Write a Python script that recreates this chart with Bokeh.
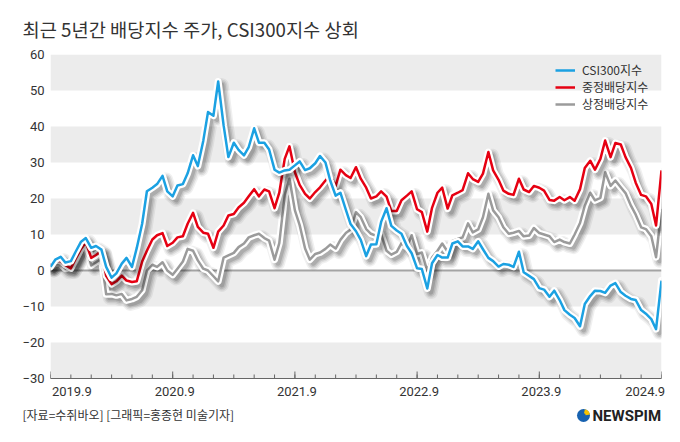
import numpy as np
import pandas as pd
from bokeh.plotting import figure
from bokeh.layouts import column
from bokeh.models import Range1d, LinearAxis, FixedTicker, Legend, LegendItem
from bokeh.core.properties import value
from bokeh.embed import file_html
from bokeh.resources import INLINE

# ---------------- data (semi-monthly) ----------------
dates = pd.date_range("2019-09-01", "2024-09-01", freq="SMS")

csi300 = [1.0, 3.0, 3.8, 2.2, 2.6, 5.2, 8.0, 9.0, 6.3, 6.8,
          5.8, 1.0, -2.0, -0.8, 1.9, 3.5, 1.0, 6.2, 13.0, 22.0,
          23.0, 24.0, 26.3, 22.0, 20.6, 23.6, 24.0, 27.0, 32.0, 29.0,
          36.0, 44.0, 43.0, 52.5, 40.3, 31.5, 35.5, 33.5, 32.0, 34.3,
          39.5, 35.5, 35.5, 33.6, 28.0, 27.2, 27.8, 28.0, 29.2, 30.3,
          27.9, 28.4, 29.8, 31.8, 30.0, 25.0, 20.8, 21.6, 16.9, 12.9,
          10.9, 8.5, 4.0, 7.2, 7.3, 13.5, 17.3, 12.4, 11.1, 10.2,
          6.8, 4.8, 0.6, 0.4, -5.0, 2.0, 4.3, 3.6, 3.6, 7.5,
          8.1, 6.7, 6.7, 6.0, 8.1, 5.9, 3.5, 2.6, 1.1, 1.8,
          1.6, 1.0, 5.2, -0.5, -1.5, -2.4, -4.9, -5.3, -7.3, -5.6,
          -8.2, -11.0, -12.3, -13.2, -15.5, -9.3, -7.1, -5.6, -5.7, -6.2,
          -4.2, -3.5, -6.0, -7.0, -7.9, -8.2, -11.0, -12.0, -13.5, -16.3,
          -2.8]

csi_dividend = [1.5, 2.8, 2.6, 1.5, 0.6, 3.2, 6.0, 7.8, 3.5, 4.3,
                5.4, -1.5, -3.8, -3.0, -1.4, -2.8, -3.2, -3.0, 2.5, 5.5,
                8.6, 9.8, 10.4, 6.8, 7.7, 9.2, 9.5, 13.0, 16.0, 12.1,
                10.5, 10.2, 6.3, 10.8, 12.5, 15.3, 15.7, 17.5, 18.8, 20.6,
                22.6, 20.6, 22.5, 22.0, 17.3, 21.6, 31.0, 34.5, 27.3, 23.8,
                21.3, 20.0, 21.8, 23.1, 25.0, 26.4, 23.5, 28.0, 26.5, 25.7,
                28.7, 25.5, 23.0, 20.0, 20.6, 22.0, 20.5, 16.5, 16.5, 19.5,
                20.8, 22.0, 17.0, 16.2, 10.8, 17.4, 21.6, 23.0, 17.2, 20.9,
                21.6, 22.3, 27.0, 25.4, 24.6, 26.9, 32.9, 27.8, 25.2, 22.2,
                21.3, 21.0, 25.5, 22.5, 21.8, 23.5, 23.0, 22.2, 19.6, 19.4,
                20.4, 19.5, 20.4, 19.4, 22.6, 28.5, 30.5, 28.0, 31.0, 36.1,
                31.5, 35.4, 35.0, 31.5, 28.5, 24.4, 21.0, 20.6, 18.5, 12.5,
                27.8]

sse_dividend = [1.0, 2.0, 1.8, 0.5, 0.8, 2.8, 6.2, 7.2, 1.4, 2.3,
                3.3, -6.6, -6.5, -6.9, -6.5, -8.3, -7.9, -7.3, -5.5, 0.0,
                1.6, 1.0, 2.3, 0.0, -1.2, 0.5, 2.5, 6.0, 5.5, 2.8,
                0.5, 0.0, -1.6, -3.0, 3.6, 4.2, 4.9, 6.5, 7.5, 9.2,
                9.8, 10.2, 9.0, 8.3, 3.0, 7.6, 21.0, 25.5, 16.7, 12.6,
                6.1, 3.0, 4.6, 5.0, 6.0, 7.2, 6.1, 8.5, 10.4, 11.4,
                16.2, 14.8, 11.5, 10.2, 9.6, 10.0, 5.5, 4.4, 5.2, 7.6,
                6.5, 9.8, 4.6, 5.0, -0.1, 3.6, 5.5, 7.5, 5.2, 8.2,
                8.8, 9.2, 13.1, 10.6, 11.4, 14.8, 21.3, 16.7, 14.8, 12.0,
                10.2, 10.5, 11.0, 9.5, 9.7, 11.8, 10.4, 10.0, 9.5, 7.9,
                8.6, 7.9, 7.5, 10.0, 13.2, 18.0, 21.6, 19.5, 20.2, 27.3,
                23.5, 25.0, 23.1, 21.5, 18.0, 15.5, 12.0, 11.5, 9.5, 3.7,
                17.1]

series_names = ["CSI300지수", "중정배당지수", "상정배당지수"]
series_colors = ["#1ba1e2", "#e60012", "#9b9b9b"]

x_tick_months = [0, 12, 24, 36, 48, 60]
x_minor_months = list(range(0, 61, 2))
x_tick_labels = ["2019.9", "2020.9", "2021.9", "2022.9", "2023.9", "2024.9"]
x_label_pos = [2.1, 12.2, 24.2, 36.2, 48.2, 58.4]
y_ticks = list(range(-30, 61, 10))

title_text = "최근 5년간 배당지수 주가, CSI300지수 상회"
source_text = "[자료=수쥐바오] [그래픽=홍종현 미술기자]"
logo_text = "NEWSPIM"

# months since Sep 2019
xm = np.array((dates.year - 2019) * 12 + (dates.month - 9) + (dates.day - 1) / 30.0, dtype=float)

KFONT = "Noto Sans CJK KR"
TEXT = "#333333"


def strip_figure(height):
    fig = figure(frame_width=680, frame_height=height, x_range=Range1d(0, 680), y_range=Range1d(0, height),
                 output_backend="svg", toolbar_location=None, title=None,
                 x_axis_location=None, y_axis_location=None,
                 min_border=0, min_border_left=0, min_border_right=0, min_border_top=0, min_border_bottom=0,
                 background_fill_color="white", border_fill_color="white", outline_line_color=None)
    fig.frame_align = False
    fig.xgrid.visible = False
    fig.ygrid.visible = False
    return fig


# ---------------- header ----------------
h = strip_figure(46)
h.text(x=[22], y=[18], text=[title_text], text_font=value(KFONT), text_font_size="18.7px",
       text_color=TEXT, text_align="left", text_baseline="middle")

# ---------------- main chart ----------------
p = figure(frame_width=611, frame_height=324, title=None,
           x_range=Range1d(0, 60), y_range=Range1d(-30, 60),
           output_backend="svg", toolbar_location=None,
           x_axis_location=None, y_axis_location=None,
           min_border_left=50, min_border_right=19, min_border_top=8, min_border_bottom=26,
           background_fill_color="white", border_fill_color="white", outline_line_color=None)
p.frame_align = False
p.xgrid.visible = False
p.ygrid.visible = False

# alternating bands and zero line
p.hstrip(y0=y_ticks[0::2], y1=y_ticks[1::2], fill_color="#ececec", line_color=None)
p.hspan(y=[0], line_color="#a3a3a3", line_width=2)

# inward tick marks on the bottom axis
ppu = 324 / 90.0
p.segment(x0=x_minor_months, x1=x_minor_months, y0=[-30] * len(x_minor_months),
          y1=[-30 + 4 / ppu] * len(x_minor_months), line_color="#666", line_width=1)
p.segment(x0=x_tick_months, x1=x_tick_months, y0=[-30] * len(x_tick_months),
          y1=[-30 + 7 / ppu] * len(x_tick_months), line_color="#666", line_width=1)

xl = LinearAxis(ticker=FixedTicker(ticks=x_label_pos, minor_ticks=[]),
                major_label_overrides={k: v for k, v in zip(x_label_pos, x_tick_labels)},
                axis_line_color="#666", axis_line_width=1,
                major_tick_line_color=None, minor_tick_line_color=None,
                major_tick_in=0, major_tick_out=0, minor_tick_in=0, minor_tick_out=0,
                major_label_standoff=8, major_label_text_font_size="13px",
                major_label_text_font="Roboto", major_label_text_color=TEXT)
p.add_layout(xl, "below")
ya = LinearAxis(ticker=FixedTicker(ticks=y_ticks, minor_ticks=[]),
                axis_line_color=None, major_tick_line_color=None, minor_tick_line_color=None,
                major_tick_in=0, major_tick_out=0,
                major_label_standoff=6, major_label_text_font_size="13px",
                major_label_text_font="Roboto", major_label_text_color=TEXT)
p.add_layout(ya, "left")

dx, dy = 0.35, -1.0


def draw(ys, color):
    ys = np.asarray(ys, dtype=float)
    for w, a in [(14, 0.06), (11, 0.08), (8, 0.10), (5, 0.13)]:
        p.line(xm + dx, ys + dy, line_color="black", line_alpha=a, line_width=w,
               line_join="round", line_cap="round")
    p.line(xm, ys, line_color="white", line_width=7, line_join="round", line_cap="round")
    return p.line(xm, ys, line_color=color, line_width=2.5, line_join="round")


r_gray = draw(sse_dividend, series_colors[2])
r_red = draw(csi_dividend, series_colors[1])
r_blue = draw(csi300, series_colors[0])

legend = Legend(items=[LegendItem(label=series_names[0], renderers=[r_blue]),
                       LegendItem(label=series_names[1], renderers=[r_red]),
                       LegendItem(label=series_names[2], renderers=[r_gray])],
                location=(505, 266), padding=0, margin=0, spacing=0,
                label_height=16, glyph_height=16, glyph_width=20, label_standoff=7,
                label_text_font=KFONT, label_text_font_size="12px", label_text_color=TEXT,
                background_fill_alpha=0, border_line_alpha=0)
p.add_layout(legend)

# ---------------- footer ----------------
f = strip_figure(38)
f.text(x=[22], y=[28], text=[source_text], text_font=value(KFONT), text_font_size="12px",
       text_color=TEXT, text_align="left", text_baseline="middle")
f.circle(x=[583], y=[27], radius=6.5, fill_color="#1762b0", line_color=None)
f.annular_wedge(x=[583], y=[27], inner_radius=2.2, outer_radius=6.5,
                start_angle=0.15, end_angle=1.35, fill_color="#f7c300", line_color=None)
f.text(x=[592], y=[27], text=[logo_text], text_font=value("Roboto"), text_font_style="bold",
       text_font_size="15px", text_color="#222222", text_align="left", text_baseline="middle")

layout = column(h, p, f, spacing=0)
open("out.html", "w").write(file_html(layout, INLINE))
